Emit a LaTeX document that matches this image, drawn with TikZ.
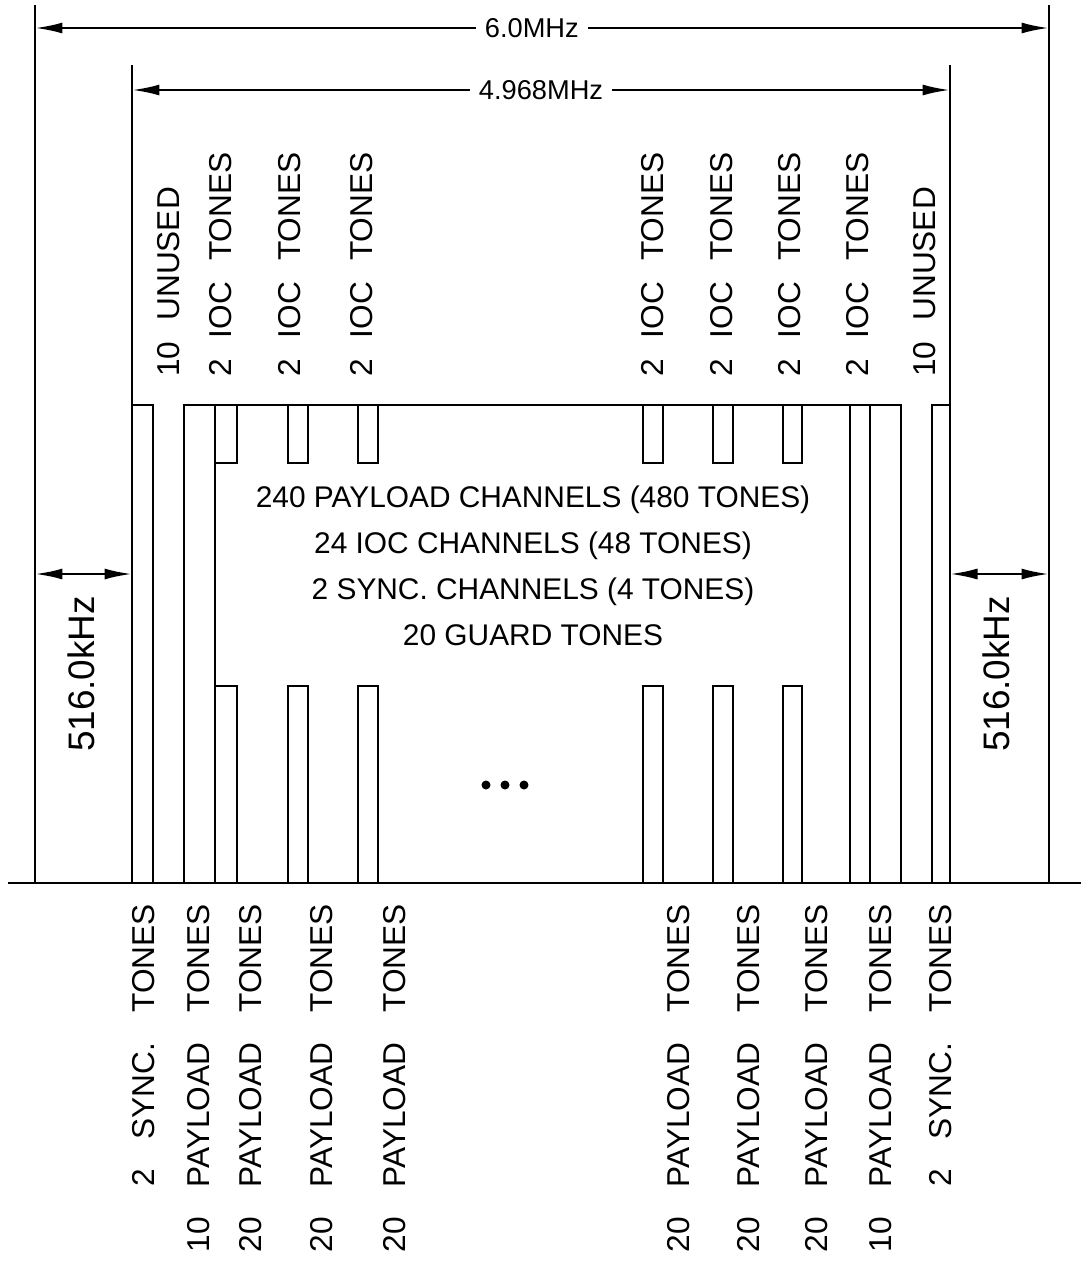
\documentclass[tikz,border=0pt]{standalone}
\usepackage{fontspec}
\setmainfont{Liberation Sans}
\usetikzlibrary{arrows.meta}
\newcommand\gp{\hspace{0.42cm}}
\newcommand\wgp{\hspace{0.6cm}}
\tikzset{
  dimline/.style={{Latex[length=0.55cm,width=0.22cm]}-{Latex[length=0.55cm,width=0.22cm]}},
  bandlbl/.style={rotate=90, inner sep=0pt, font=\fontsize{18}{18}\selectfont},
  toplbl/.style={bandlbl, anchor=west},
  botlbl/.style={bandlbl, anchor=east},
  freqlbl/.style={fill=white, inner sep=5pt, font=\fontsize{15.5}{15.5}\selectfont},
  guardlbl/.style={rotate=90, inner sep=0pt, font=\fontsize{21}{21}\selectfont},
}
\begin{document}
\begin{tikzpicture}[x=0.02cm,y=-0.02cm,line width=1.4pt]
\useasboundingbox (0,0) rectangle (1081,1265);
\coordinate (outL) at (35,28);
\coordinate (outR) at (1049,28);
\coordinate (inL) at (132,90);
\coordinate (inR) at (950,90);
\coordinate (gapL) at (35,574);
\coordinate (edgeL) at (132,574);
\coordinate (edgeR) at (950,574);
\coordinate (gapR) at (1049,574);
%
\draw (8,883) -- (1081,883);
\draw (35,5) -- (35,883);
\draw (1049,5) -- (1049,883);
\draw (132,65) -- (132,883);
\draw (950,65) -- (950,883);
\draw[dimline] (outL) -- (outR) node[freqlbl, pos=0.49] (wide) {6.0MHz};
\draw[dimline] (inL) -- (inR) node[freqlbl, midway] (used) {4.968MHz};
\draw[dimline] (gapL) -- (edgeL);
\draw[dimline] (edgeR) -- (gapR);
\node[guardlbl] (guardL) at (81,674) {516.0kHz};
\node[guardlbl] (guardR) at (996,674) {516.0kHz};
%
\draw (132,405) -- (153,405) -- (153,883);
\draw (932,883) -- (932,405) -- (950,405);
\draw (184,883) -- (184,405) -- (901,405) -- (901,883);
\draw (215,405) -- (215,883);
\draw (850,405) -- (850,883);
\draw (870,405) -- (870,883);
\foreach \a/\b in {215/237, 288/308, 358/378, 643/663, 713/733, 783/802} {
  \draw (\a,405) -- (\a,463) -- (\b,463) -- (\b,405);
  \draw (\a,883) -- (\a,686) -- (\b,686) -- (\b,883);
}
\foreach \x in {486,505,524} \fill (\x,785) circle (0.09cm);
%
\node[align=center, font=\fontsize{17}{26.2}\selectfont] (summary) at (533,566)
  {240 PAYLOAD CHANNELS (480 TONES)\\24 IOC CHANNELS (48 TONES)\\2 SYNC. CHANNELS (4 TONES)\\20 GUARD TONES};
%
\node[toplbl] (unusedL) at (169,378) {10\gp UNUSED};
\foreach \x [count=\i] in {221,290,362,653,722,790,858}
  \node[toplbl] (ioc\i) at (\x,378) {2\gp IOC\gp TONES};
\node[toplbl] (unusedR) at (925,378) {10\gp UNUSED};
%
\node[botlbl] (syncL) at (144,903) {2\wgp SYNC.\wgp TONES};
\node[botlbl] (payA) at (199,903) {10\wgp PAYLOAD\wgp TONES};
\foreach \x [count=\i] in {251,322,395,679,749,817}
  \node[botlbl] (pay\i) at (\x,903) {20\wgp PAYLOAD\wgp TONES};
\node[botlbl] (payB) at (881,903) {10\wgp PAYLOAD\wgp TONES};
\node[botlbl] (syncR) at (941,903) {2\wgp SYNC.\wgp TONES};
\end{tikzpicture}
\end{document}
